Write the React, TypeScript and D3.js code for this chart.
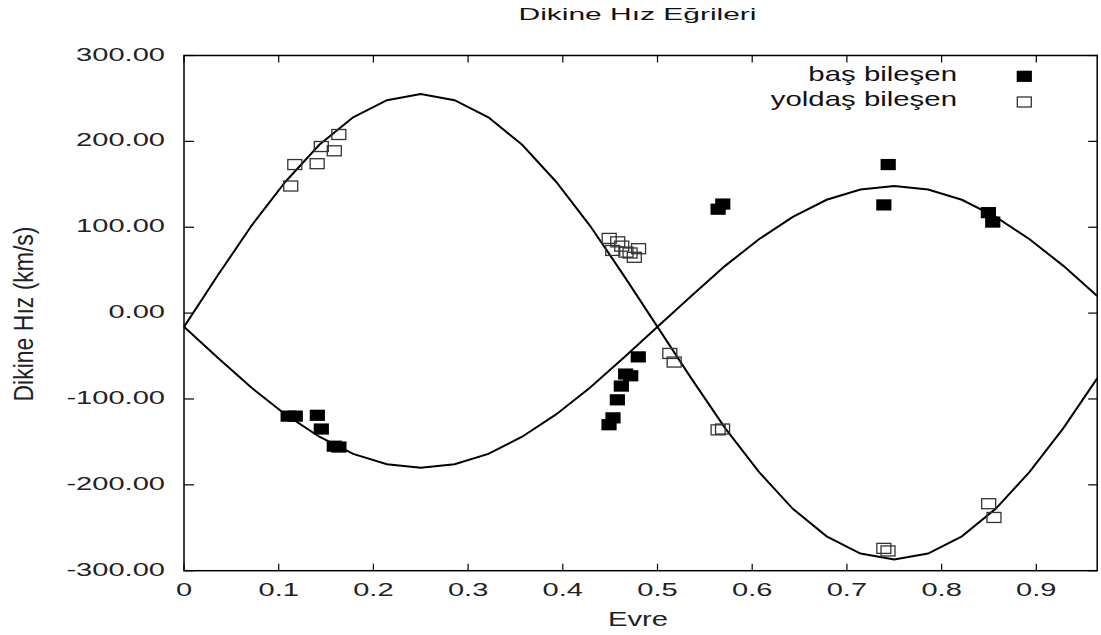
import React from "react";
import * as d3 from "d3";

// Fitted curves (vertices of the drawn polyline)
const curvePhase = [0, 0.0357, 0.0714, 0.1071, 0.1429, 0.1786, 0.2143, 0.25, 0.2857, 0.3214, 0.3571, 0.3929, 0.4286, 0.4643, 0.5, 0.5357, 0.5714, 0.6071, 0.6429, 0.6786, 0.7143, 0.75, 0.7857, 0.8214, 0.8571, 0.8929, 0.9286, 0.9643];
const primaryCurve = [-16, -52, -87, -118, -144, -164, -176, -180, -176, -164, -144, -118, -87, -52, -16, 20, 55, 86, 112, 132, 144, 148, 144, 132, 112, 86, 55, 20];
const secondaryCurve = [-16, 44, 102, 153, 196, 228, 248, 255, 248, 228, 196, 153, 102, 44, -16, -76, -134, -185, -228, -260, -280, -287, -280, -260, -228, -185, -134, -76];

// Observations
const primaryPhase = [0.110, 0.1175, 0.1408, 0.145, 0.1587, 0.1636, 0.4488, 0.453, 0.4576, 0.4618, 0.4664, 0.4717, 0.4797, 0.564, 0.5689, 0.739, 0.7436, 0.8494, 0.854];
const primaryRV = [-120, -120, -119, -135, -155, -156, -130, -122, -101, -85, -71, -73, -51, 121, 127, 126, 173, 117, 106];
const secondaryPhase = [0.1127, 0.117, 0.1406, 0.145, 0.1587, 0.1635, 0.449, 0.4527, 0.458, 0.4622, 0.4667, 0.471, 0.4755, 0.480, 0.513, 0.5176, 0.564, 0.5687, 0.739, 0.7434, 0.8497, 0.8553];
const secondaryRV = [148, 173, 174, 194, 189, 208, 87, 73, 83, 78, 71, 70, 65, 75, -47, -57, -136, -135, -274, -277, -222, -238];

const xTicks = [0, 0.1, 0.2, 0.3, 0.4, 0.5, 0.6, 0.7, 0.8, 0.9];
const xTickLabels = ["0", "0.1", "0.2", "0.3", "0.4", "0.5", "0.6", "0.7", "0.8", "0.9"];
const yTicks = [300, 200, 100, 0, -100, -200, -300];
const yTickLabels = ["300.00", "200.00", "100.00", "0.00", "-100.00", "-200.00", "-300.00"];
const xDomain = [0, 0.9643];
const yDomain = [-300, 300];

const title = "Dikine Hız Eğrileri";
const xTitle = "Evre";
const yTitle = "Dikine Hız (km/s)";
const legendLabels = ["baş bileşen", "yoldaş bileşen"];

const FONT = "'Liberation Sans', Arial, Helvetica, sans-serif";

export default function App() {
  const L = 184, R = 1097.2, T = 55.5, B = 570.7;
  const x = d3.scaleLinear().domain(xDomain).range([L, R]);
  const y = d3.scaleLinear().domain(yDomain).range([B, T]);
  const line = d3.line<number>().x((_, i) => x(curvePhase[i])).y((v) => y(v));
  const mw = 14, mh = 10;

  return (
    <svg width={1101} height={635} style={{ position: "absolute", left: 0, top: 0, display: "block", background: "#fff" }}>
      <rect x={0} y={0} width={1101} height={635} fill="#fff" />
      {/* title */}
      <text x={637.5} y={20} fontFamily={FONT} fontSize={16} textAnchor="middle" fill="#111"
        textLength={238} lengthAdjust="spacingAndGlyphs">{title}</text>

      {/* curves */}
      <path d={line(primaryCurve) || ""} fill="none" stroke="#000" strokeWidth={2} />
      <path d={line(secondaryCurve) || ""} fill="none" stroke="#000" strokeWidth={2} />

      {/* markers */}
      {primaryPhase.map((p, i) => (
        <rect key={"p" + i} x={x(p) - mw / 2 - 0.6} y={y(primaryRV[i]) - mh / 2 - 0.6} width={mw + 1.2} height={mh + 1.2} fill="#000" />
      ))}
      {secondaryPhase.map((p, i) => (
        <rect key={"s" + i} x={x(p) - mw / 2} y={y(secondaryRV[i]) - mh / 2} width={mw} height={mh} fill="none" stroke="#333" strokeWidth={1.3} />
      ))}

      {/* frame */}
      <rect x={L} y={T} width={R - L} height={B - T} fill="none" stroke="#000" strokeWidth={1.5} />
      {/* ticks */}
      {yTicks.map((t) => (
        <g key={"yt" + t}>
          <line x1={L} x2={L + 10} y1={y(t)} y2={y(t)} stroke="#000" strokeWidth={1.2} />
          <line x1={R - 9} x2={R} y1={y(t)} y2={y(t)} stroke="#000" strokeWidth={1.2} />
        </g>
      ))}
      {xTicks.map((t) => (
        <g key={"xt" + t}>
          <line x1={x(t)} x2={x(t)} y1={B} y2={B - 7} stroke="#000" strokeWidth={1.2} />
          <line x1={x(t)} x2={x(t)} y1={T} y2={T + 7} stroke="#000" strokeWidth={1.2} />
        </g>
      ))}

      {/* tick labels */}
      {yTicks.map((t, i) => (
        <text key={"yl" + t} transform={`translate(165,${y(t) + 5}) scale(1.53,1)`} fontFamily={FONT} fontSize={19}
          textAnchor="end" fill="#222">{yTickLabels[i]}</text>
      ))}
      {xTicks.map((t, i) => (
        <text key={"xl" + t} transform={`translate(${x(t)},596) scale(1.57,1)`} fontFamily={FONT} fontSize={18.5}
          textAnchor="middle" fill="#222">{xTickLabels[i]}</text>
      ))}

      {/* axis titles */}
      <text transform={`translate(638,626) scale(1.39,1)`} fontFamily={FONT} fontSize={21} textAnchor="middle" fill="#222">{xTitle}</text>
      <text transform={`translate(32.7,314) rotate(-90) scale(1,1.5)`} fontFamily={FONT} fontSize={18} textAnchor="middle" fill="#222"
        textLength={175} lengthAdjust="spacingAndGlyphs">{yTitle}</text>

      {/* legend */}
      <text transform={`translate(957,81) scale(1.4,1)`} fontFamily={FONT} fontSize={21} textAnchor="end" fill="#111">{legendLabels[0]}</text>
      <text transform={`translate(957,106) scale(1.4,1)`} fontFamily={FONT} fontSize={21} textAnchor="end" fill="#111">{legendLabels[1]}</text>
      <rect x={1024.3 - mw / 2 - 0.6} y={76.3 - mh / 2 - 0.6} width={mw + 1.2} height={mh + 1.2} fill="#000" />
      <rect x={1024.3 - mw / 2} y={102 - mh / 2} width={mw} height={mh} fill="none" stroke="#333" strokeWidth={1.3} />
    </svg>
  );
}
